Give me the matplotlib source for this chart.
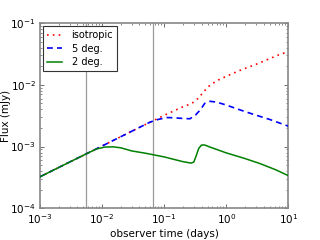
import matplotlib
matplotlib.use("Agg")
import matplotlib.pyplot as plt
from matplotlib.ticker import LogLocator, NullFormatter

# Data (observer time in days, flux in mJy)
t_iso = [0.001, 0.003, 0.01, 0.03, 0.1, 0.2, 0.28, 0.35, 0.42, 0.5, 0.6, 0.75,
         1.0, 1.5, 2.0, 3.0, 5.0, 7.0, 10.0]
f_iso = [3.24e-4, 5.61e-4, 1.02e-3, 1.77e-3, 3.2e-3, 4.4e-3, 5.0e-3, 6.0e-3,
         7.4e-3, 9.1e-3, 1.05e-2, 1.2e-2, 1.37e-2, 1.64e-2, 1.84e-2, 2.14e-2,
         2.65e-2, 3.05e-2, 3.45e-2]

t_5deg = [0.001, 0.003, 0.01, 0.03, 0.06, 0.08, 0.11, 0.15, 0.2, 0.26, 0.32,
          0.38, 0.45, 0.55, 0.7, 1.0, 1.7, 2.8, 5.0, 10.0]
f_5deg = [3.24e-4, 5.61e-4, 1.02e-3, 1.77e-3, 2.5e-3, 2.75e-3, 2.95e-3,
          2.92e-3, 2.85e-3, 2.82e-3, 3.24e-3, 3.9e-3, 5.0e-3, 5.4e-3, 5.25e-3,
          4.7e-3, 3.9e-3, 3.3e-3, 2.75e-3, 2.14e-3]

t_2deg = [0.001, 0.003, 0.006, 0.008, 0.011, 0.015, 0.02, 0.03, 0.05, 0.1,
          0.2, 0.27, 0.3, 0.33, 0.36, 0.4, 0.45, 0.55, 1.0, 2.0, 3.5, 6.3, 10.0]
f_2deg = [3.24e-4, 5.61e-4, 7.9e-4, 9.1e-4, 9.8e-4, 9.9e-4, 9.55e-4, 8.5e-4,
          7.8e-4, 6.8e-4, 5.7e-4, 5.4e-4, 5.6e-4, 7.2e-4, 9.3e-4, 1.06e-3,
          1.06e-3, 9.8e-4, 7.9e-4, 6.4e-4, 5.3e-4, 4.2e-4, 3.38e-4]

vlines_t = [0.00545, 0.066]

plt.rcParams['font.family'] = ['DejaVu Sans']
plt.rcParams['mathtext.fontset'] = 'dejavusans'

fig = plt.figure(figsize=(3.2, 2.4), dpi=100, facecolor='white')
ax = fig.add_axes([0.125, 0.132, 0.776, 0.772])

for v in vlines_t:
    ax.axvline(v, color='#999999', lw=0.9, zorder=1)

ax.loglog(t_iso, f_iso, color='red', ls=(0, (1, 2.5)), lw=1.2, label='isotropic', zorder=2)
ax.loglog(t_5deg, f_5deg, color='blue', ls=(0, (3.5, 2.5)), lw=1.2, label='5 deg.', zorder=3)
ax.loglog(t_2deg, f_2deg, color='green', ls='-', lw=1.1, label='2 deg.', zorder=4)

ax.set_xlim(1e-3, 10)
ax.set_ylim(1e-4, 1e-1)

ax.xaxis.set_major_locator(LogLocator(base=10, numticks=10))
ax.yaxis.set_major_locator(LogLocator(base=10, numticks=10))
ax.xaxis.set_minor_locator(LogLocator(base=10, subs=range(2, 10), numticks=20))
ax.yaxis.set_minor_locator(LogLocator(base=10, subs=range(2, 10), numticks=20))
ax.xaxis.set_minor_formatter(NullFormatter())
ax.yaxis.set_minor_formatter(NullFormatter())

ax.tick_params(which='both', direction='in', top=True, right=True,
               colors='#555555', labelcolor='black', labelsize=7.5)
ax.tick_params(which='major', length=3, width=0.6, pad=3)
ax.tick_params(which='minor', length=1.5, width=0.5)
for s in ax.spines.values():
    s.set_color('#888888')
    s.set_linewidth(1.2)

ax.set_xlabel('observer time (days)', fontsize=7.5)
ax.set_ylabel('Flux (mJy)', fontsize=7.5)
ax.xaxis.set_label_coords(0.5, -0.112)
ax.yaxis.set_label_coords(-0.118, 0.5)

leg = ax.legend(loc='upper left', fontsize=7, fancybox=False, framealpha=1,
                handlelength=1.5, handletextpad=1.0, borderaxespad=0.35,
                borderpad=0.4, labelspacing=0.35)
leg.get_frame().set_edgecolor('#333333')
leg.get_frame().set_linewidth(0.8)

fig.savefig('out.png', dpi=100, facecolor='white')
